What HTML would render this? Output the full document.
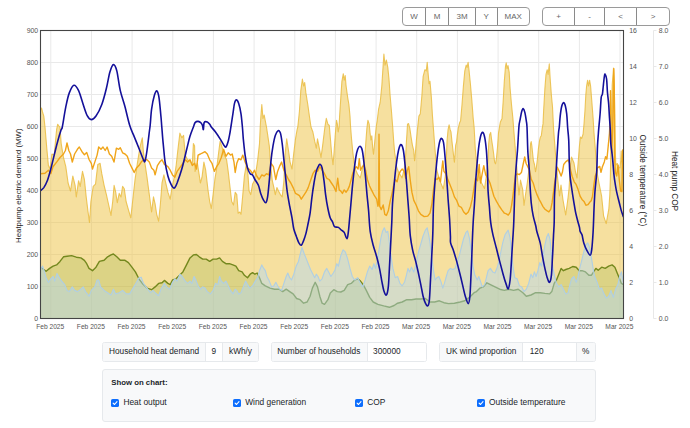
<!DOCTYPE html>
<html><head><meta charset="utf-8"><title>Heat pump demand</title>
<style>
html,body{margin:0;padding:0;background:#fff;}
body{width:690px;height:428px;position:relative;overflow:hidden;font-family:"Liberation Sans",sans-serif;color:#212529;}
.chart{position:absolute;left:0;top:0;}
.bg{position:absolute;top:6.7px;height:17.6px;border:1px solid #9a9a9a;border-radius:4px;display:flex;box-sizing:content-box;background:#fff;}
.bg div{height:17.6px;line-height:18.2px;text-align:center;font-size:8px;color:#666;border-left:1px solid #8a8a8a;box-sizing:border-box;}
.bg div:first-child{border-left:none;}
.ig{position:absolute;top:342px;height:17.6px;display:flex;font-size:8.28px;line-height:18.8px;border:1px solid #e6e9ec;border-radius:2.5px;overflow:hidden;background:#fff;}
.ig .l{background:#f8f9fa;padding:0 0 0 6.6px;white-space:nowrap;}
.ig .i{background:#fff;border-left:1px solid #e6e9ec;white-space:nowrap;}
.ig .u{background:#f8f9fa;border-left:1px solid #e6e9ec;white-space:nowrap;text-align:center;}
.panel{position:absolute;left:102px;top:369px;width:491.5px;height:50.5px;background:#f8f9fa;border:1px solid #e6e9ec;border-radius:3px;}
.panel .h{position:absolute;left:8.2px;top:8px;font-size:7.8px;font-weight:bold;line-height:10px;white-space:nowrap;}
.cbx{position:absolute;top:27.4px;font-size:8.4px;line-height:10px;white-space:nowrap;}
.cbx .cb{position:absolute;left:0;top:1.2px;}
.cbx span{position:absolute;left:12.2px;top:0;}
</style></head><body>
<svg class="chart" width="690" height="340" viewBox="0 0 690 340"><rect x="40.5" y="30.5" width="583.0" height="288.0" fill="#fff"/><path d="M50.8,30.5 V318.5 M91.5,30.5 V318.5 M132.1,30.5 V318.5 M172.8,30.5 V318.5 M213.4,30.5 V318.5 M254.1,30.5 V318.5 M294.8,30.5 V318.5 M335.4,30.5 V318.5 M376.1,30.5 V318.5 M416.7,30.5 V318.5 M457.4,30.5 V318.5 M498.1,30.5 V318.5 M538.7,30.5 V318.5 M579.4,30.5 V318.5 M620.0,30.5 V318.5 M40.5,286.5 H623.5 M40.5,254.5 H623.5 M40.5,222.5 H623.5 M40.5,190.5 H623.5 M40.5,158.5 H623.5 M40.5,126.5 H623.5 M40.5,94.5 H623.5 M40.5,62.5 H623.5" stroke="#e9e9e9" stroke-width="1" fill="none"/><g clip-path="url(#cp)"><defs><clipPath id="cp"><rect x="40.5" y="30.5" width="583.0" height="288.0"/></clipPath></defs><path d="M40.5,110.0 L41.5,108.0 L42.5,112.0 L43.8,116.1 L45.0,127.0 L46.8,148.2 L48.4,165.6 L50.0,169.0 L51.9,154.0 L54.2,155.0 L56.6,129.6 L57.7,124.2 L59.0,126.0 L60.0,127.3 L61.2,143.6 L63.5,157.5 L65.8,166.7 L68.1,183.0 L70.5,191.0 L72.8,176.0 L75.1,185.3 L76.3,196.9 L78.6,180.7 L80.2,186.4 L82.5,171.4 L84.4,179.5 L86.2,196.9 L87.9,210.8 L89.5,222.4 L90.9,201.5 L93.2,186.4 L95.5,184.1 L97.8,164.4 L100.1,163.3 L101.8,173.7 L104.1,185.3 L106.4,194.6 L108.7,205.0 L111.0,215.4 L112.7,201.5 L114.1,185.3 L115.7,192.2 L117.3,202.7 L119.2,193.4 L121.0,196.9 L122.6,186.4 L124.3,188.8 L126.1,201.5 L128.4,209.6 L130.8,217.8 L132.6,201.5 L134.9,180.7 L137.2,164.4 L140.0,147.0 L142.3,137.8 L143.5,152.8 L145.1,164.4 L147.0,177.2 L149.3,194.6 L151.6,212.0 L153.5,196.9 L155.1,203.8 L156.7,214.3 L158.6,221.2 L160.4,203.8 L162.0,183.0 L163.9,174.9 L165.5,181.8 L167.9,192.2 L170.2,199.2 L172.0,187.6 L174.3,177.2 L176.0,166.7 L177.8,150.5 L179.9,133.1 L181.8,137.8 L183.6,135.4 L185.2,155.1 L187.6,159.8 L190.0,161.0 L192.3,164.4 L193.4,143.6 L194.6,145.9 L195.1,171.4 L197.4,163.3 L199.2,174.9 L200.4,183.0 L202.0,177.2 L203.9,162.1 L205.7,170.2 L208.0,190.0 L209.7,201.5 L211.3,208.5 L213.1,194.6 L215.0,178.3 L216.6,169.0 L218.9,150.5 L220.1,141.2 L222.0,147.0 L224.3,155.1 L226.6,159.8 L228.2,171.4 L229.8,185.3 L231.7,201.5 L233.5,205.0 L235.2,192.2 L236.8,194.6 L238.2,213.1 L239.8,212.0 L241.0,214.3 L242.8,194.6 L244.4,176.0 L246.1,165.6 L247.9,173.7 L249.1,191.1 L250.7,194.6 L252.6,184.1 L254.4,180.7 L256.0,171.4 L257.7,159.8 L259.5,143.6 L260.2,127.0 L260.9,116.1 L261.8,104.5 L263.0,118.4 L264.2,115.0 L265.3,120.8 L266.5,127.0 L267.6,134.3 L269.3,145.9 L270.7,165.6 L272.3,180.7 L273.9,187.6 L275.3,194.6 L276.9,187.6 L278.5,191.1 L280.4,194.6 L282.2,196.9 L283.9,180.7 L285.0,155.1 L286.7,138.9 L288.5,150.5 L290.1,162.1 L292.0,169.0 L293.8,152.8 L295.5,138.9 L297.1,129.6 L297.8,127.0 L299.4,111.5 L300.8,90.6 L302.4,79.0 L303.6,86.0 L304.7,82.5 L305.9,92.9 L307.8,104.5 L309.4,116.1 L311.0,127.0 L312.9,132.0 L314.7,141.2 L316.3,148.2 L317.5,138.9 L319.3,148.2 L321.0,157.5 L322.6,145.9 L324.0,134.3 L324.9,127.0 L326.3,118.4 L327.9,124.2 L329.3,125.5 L330.4,138.5 L331.7,154.2 L333.0,164.7 L333.9,154.2 L335.2,135.9 L336.5,120.2 L337.4,124.2 L338.2,132.0 L339.1,126.8 L339.6,116.1 L340.8,97.6 L341.9,81.3 L343.3,73.7 L344.2,80.2 L345.2,75.5 L346.1,86.0 L347.7,97.6 L348.9,104.5 L350.0,116.1 L350.5,125.5 L351.5,138.5 L352.9,152.9 L354.2,163.4 L355.7,170.1 L357.5,174.0 L360.3,178.0 L362.9,166.2 L364.2,162.2 L365.0,154.2 L365.9,141.2 L366.9,128.1 L367.9,120.2 L369.2,124.2 L370.1,133.3 L370.9,139.9 L371.8,135.9 L372.7,147.7 L373.5,154.2 L374.4,145.1 L375.4,134.6 L376.4,125.5 L377.2,120.8 L378.6,109.2 L380.2,102.2 L381.8,86.0 L383.0,67.4 L383.9,54.0 L385.0,65.1 L386.4,60.0 L387.8,67.4 L389.0,79.0 L390.1,95.2 L391.3,109.2 L392.3,122.0 L392.8,128.1 L393.7,141.2 L394.7,152.9 L395.8,159.5 L396.7,167.3 L398.5,172.0 L402.1,177.9 L404.8,166.2 L405.8,153.1 L406.5,140.0 L406.9,134.6 L407.5,124.2 L408.5,123.5 L409.8,128.1 L411.1,137.2 L412.4,145.1 L413.7,150.3 L414.6,160.8 L415.4,152.9 L416.3,141.2 L417.6,128.1 L418.9,116.1 L420.3,113.8 L421.9,95.2 L423.1,76.7 L424.9,69.7 L426.3,70.9 L427.2,62.3 L428.2,74.4 L429.1,83.7 L430.0,81.3 L431.4,97.6 L432.4,115.0 L433.4,128.1 L434.4,141.2 L435.3,152.9 L436.3,164.7 L437.0,171.0 L440.0,181.0 L443.3,189.0 L445.3,176.0 L446.1,165.0 L446.5,154.2 L447.0,141.2 L448.1,129.4 L449.1,124.8 L450.1,129.4 L451.0,132.0 L451.8,139.9 L452.7,147.7 L453.6,155.6 L454.4,162.1 L455.0,154.2 L455.7,145.1 L456.6,141.8 L457.2,135.9 L458.3,128.1 L459.6,122.8 L460.6,120.8 L462.0,104.5 L463.4,86.0 L464.8,70.9 L466.2,65.1 L467.1,67.4 L468.1,62.3 L469.0,69.7 L470.4,83.7 L471.8,99.9 L473.2,118.4 L474.1,127.0 L474.6,136.0 L475.3,149.0 L476.2,158.2 L477.5,171.0 L480.0,180.0 L484.5,188.5 L486.5,175.0 L487.5,165.0 L488.0,159.2 L488.7,143.5 L489.7,134.4 L490.7,132.4 L491.6,139.6 L492.6,146.2 L493.7,154.0 L494.6,161.9 L495.5,163.8 L496.5,157.9 L497.6,146.2 L498.5,133.1 L499.8,125.2 L500.4,121.9 L502.0,118.4 L503.1,102.2 L504.3,81.3 L505.5,66.3 L506.2,62.8 L507.1,68.6 L508.0,65.6 L509.2,72.1 L510.1,88.3 L511.5,104.5 L512.9,118.4 L513.8,130.5 L514.9,143.5 L515.9,156.6 L516.8,167.1 L517.5,178.0 L519.0,194.9 L520.5,180.0 L522.7,189.6 L524.0,205.3 L525.3,196.0 L527.3,183.0 L528.6,172.0 L529.5,165.8 L530.0,152.7 L530.6,143.5 L531.2,141.6 L531.9,146.2 L532.7,154.0 L533.4,160.6 L534.5,164.5 L535.5,171.7 L536.4,167.1 L537.4,159.2 L538.4,148.8 L539.5,140.9 L540.4,137.0 L541.3,135.7 L542.1,129.2 L543.0,123.9 L543.7,109.2 L544.9,88.3 L546.0,74.4 L547.2,69.7 L548.1,74.4 L549.3,63.9 L550.2,79.0 L551.4,95.2 L552.5,106.8 L553.5,127.8 L554.4,139.6 L555.4,152.7 L556.5,164.5 L557.4,176.0 L559.5,196.0 L561.0,185.0 L563.0,200.0 L565.7,215.0 L568.0,198.0 L569.0,189.0 L570.5,165.0 L571.5,157.0 L574.0,163.0 L575.5,172.0 L577.0,178.0 L578.4,159.2 L579.4,146.2 L580.4,137.0 L581.7,138.3 L583.1,134.0 L584.0,124.0 L585.0,110.0 L585.8,95.0 L586.6,86.0 L587.6,80.2 L588.5,86.0 L589.6,80.2 L590.6,86.0 L591.7,99.9 L593.1,118.0 L594.0,133.0 L595.1,146.2 L596.1,159.2 L596.7,167.1 L597.5,175.0 L599.0,183.0 L601.6,196.0 L603.6,215.8 L606.2,223.6 L608.8,209.2 L609.8,195.0 L610.3,180.0 L610.8,150.0 L611.3,120.0 L612.2,85.0 L613.5,68.0 L614.3,85.0 L614.9,120.0 L615.3,150.0 L615.8,165.0 L617.3,163.5 L618.6,167.0 L620.0,168.0 L620.8,160.0 L621.2,151.0 L621.6,160.0 L622.5,165.0 L623.5,158.0 L623.5,318.5 L40.5,318.5 Z" fill="#edc240" fill-opacity="0.5"/><path d="M40.5,110.0 L41.5,108.0 L42.5,112.0 L43.8,116.1 L45.0,127.0 L46.8,148.2 L48.4,165.6 L50.0,169.0 L51.9,154.0 L54.2,155.0 L56.6,129.6 L57.7,124.2 L59.0,126.0 L60.0,127.3 L61.2,143.6 L63.5,157.5 L65.8,166.7 L68.1,183.0 L70.5,191.0 L72.8,176.0 L75.1,185.3 L76.3,196.9 L78.6,180.7 L80.2,186.4 L82.5,171.4 L84.4,179.5 L86.2,196.9 L87.9,210.8 L89.5,222.4 L90.9,201.5 L93.2,186.4 L95.5,184.1 L97.8,164.4 L100.1,163.3 L101.8,173.7 L104.1,185.3 L106.4,194.6 L108.7,205.0 L111.0,215.4 L112.7,201.5 L114.1,185.3 L115.7,192.2 L117.3,202.7 L119.2,193.4 L121.0,196.9 L122.6,186.4 L124.3,188.8 L126.1,201.5 L128.4,209.6 L130.8,217.8 L132.6,201.5 L134.9,180.7 L137.2,164.4 L140.0,147.0 L142.3,137.8 L143.5,152.8 L145.1,164.4 L147.0,177.2 L149.3,194.6 L151.6,212.0 L153.5,196.9 L155.1,203.8 L156.7,214.3 L158.6,221.2 L160.4,203.8 L162.0,183.0 L163.9,174.9 L165.5,181.8 L167.9,192.2 L170.2,199.2 L172.0,187.6 L174.3,177.2 L176.0,166.7 L177.8,150.5 L179.9,133.1 L181.8,137.8 L183.6,135.4 L185.2,155.1 L187.6,159.8 L190.0,161.0 L192.3,164.4 L193.4,143.6 L194.6,145.9 L195.1,171.4 L197.4,163.3 L199.2,174.9 L200.4,183.0 L202.0,177.2 L203.9,162.1 L205.7,170.2 L208.0,190.0 L209.7,201.5 L211.3,208.5 L213.1,194.6 L215.0,178.3 L216.6,169.0 L218.9,150.5 L220.1,141.2 L222.0,147.0 L224.3,155.1 L226.6,159.8 L228.2,171.4 L229.8,185.3 L231.7,201.5 L233.5,205.0 L235.2,192.2 L236.8,194.6 L238.2,213.1 L239.8,212.0 L241.0,214.3 L242.8,194.6 L244.4,176.0 L246.1,165.6 L247.9,173.7 L249.1,191.1 L250.7,194.6 L252.6,184.1 L254.4,180.7 L256.0,171.4 L257.7,159.8 L259.5,143.6 L260.2,127.0 L260.9,116.1 L261.8,104.5 L263.0,118.4 L264.2,115.0 L265.3,120.8 L266.5,127.0 L267.6,134.3 L269.3,145.9 L270.7,165.6 L272.3,180.7 L273.9,187.6 L275.3,194.6 L276.9,187.6 L278.5,191.1 L280.4,194.6 L282.2,196.9 L283.9,180.7 L285.0,155.1 L286.7,138.9 L288.5,150.5 L290.1,162.1 L292.0,169.0 L293.8,152.8 L295.5,138.9 L297.1,129.6 L297.8,127.0 L299.4,111.5 L300.8,90.6 L302.4,79.0 L303.6,86.0 L304.7,82.5 L305.9,92.9 L307.8,104.5 L309.4,116.1 L311.0,127.0 L312.9,132.0 L314.7,141.2 L316.3,148.2 L317.5,138.9 L319.3,148.2 L321.0,157.5 L322.6,145.9 L324.0,134.3 L324.9,127.0 L326.3,118.4 L327.9,124.2 L329.3,125.5 L330.4,138.5 L331.7,154.2 L333.0,164.7 L333.9,154.2 L335.2,135.9 L336.5,120.2 L337.4,124.2 L338.2,132.0 L339.1,126.8 L339.6,116.1 L340.8,97.6 L341.9,81.3 L343.3,73.7 L344.2,80.2 L345.2,75.5 L346.1,86.0 L347.7,97.6 L348.9,104.5 L350.0,116.1 L350.5,125.5 L351.5,138.5 L352.9,152.9 L354.2,163.4 L355.7,170.1 L357.5,174.0 L360.3,178.0 L362.9,166.2 L364.2,162.2 L365.0,154.2 L365.9,141.2 L366.9,128.1 L367.9,120.2 L369.2,124.2 L370.1,133.3 L370.9,139.9 L371.8,135.9 L372.7,147.7 L373.5,154.2 L374.4,145.1 L375.4,134.6 L376.4,125.5 L377.2,120.8 L378.6,109.2 L380.2,102.2 L381.8,86.0 L383.0,67.4 L383.9,54.0 L385.0,65.1 L386.4,60.0 L387.8,67.4 L389.0,79.0 L390.1,95.2 L391.3,109.2 L392.3,122.0 L392.8,128.1 L393.7,141.2 L394.7,152.9 L395.8,159.5 L396.7,167.3 L398.5,172.0 L402.1,177.9 L404.8,166.2 L405.8,153.1 L406.5,140.0 L406.9,134.6 L407.5,124.2 L408.5,123.5 L409.8,128.1 L411.1,137.2 L412.4,145.1 L413.7,150.3 L414.6,160.8 L415.4,152.9 L416.3,141.2 L417.6,128.1 L418.9,116.1 L420.3,113.8 L421.9,95.2 L423.1,76.7 L424.9,69.7 L426.3,70.9 L427.2,62.3 L428.2,74.4 L429.1,83.7 L430.0,81.3 L431.4,97.6 L432.4,115.0 L433.4,128.1 L434.4,141.2 L435.3,152.9 L436.3,164.7 L437.0,171.0 L440.0,181.0 L443.3,189.0 L445.3,176.0 L446.1,165.0 L446.5,154.2 L447.0,141.2 L448.1,129.4 L449.1,124.8 L450.1,129.4 L451.0,132.0 L451.8,139.9 L452.7,147.7 L453.6,155.6 L454.4,162.1 L455.0,154.2 L455.7,145.1 L456.6,141.8 L457.2,135.9 L458.3,128.1 L459.6,122.8 L460.6,120.8 L462.0,104.5 L463.4,86.0 L464.8,70.9 L466.2,65.1 L467.1,67.4 L468.1,62.3 L469.0,69.7 L470.4,83.7 L471.8,99.9 L473.2,118.4 L474.1,127.0 L474.6,136.0 L475.3,149.0 L476.2,158.2 L477.5,171.0 L480.0,180.0 L484.5,188.5 L486.5,175.0 L487.5,165.0 L488.0,159.2 L488.7,143.5 L489.7,134.4 L490.7,132.4 L491.6,139.6 L492.6,146.2 L493.7,154.0 L494.6,161.9 L495.5,163.8 L496.5,157.9 L497.6,146.2 L498.5,133.1 L499.8,125.2 L500.4,121.9 L502.0,118.4 L503.1,102.2 L504.3,81.3 L505.5,66.3 L506.2,62.8 L507.1,68.6 L508.0,65.6 L509.2,72.1 L510.1,88.3 L511.5,104.5 L512.9,118.4 L513.8,130.5 L514.9,143.5 L515.9,156.6 L516.8,167.1 L517.5,178.0 L519.0,194.9 L520.5,180.0 L522.7,189.6 L524.0,205.3 L525.3,196.0 L527.3,183.0 L528.6,172.0 L529.5,165.8 L530.0,152.7 L530.6,143.5 L531.2,141.6 L531.9,146.2 L532.7,154.0 L533.4,160.6 L534.5,164.5 L535.5,171.7 L536.4,167.1 L537.4,159.2 L538.4,148.8 L539.5,140.9 L540.4,137.0 L541.3,135.7 L542.1,129.2 L543.0,123.9 L543.7,109.2 L544.9,88.3 L546.0,74.4 L547.2,69.7 L548.1,74.4 L549.3,63.9 L550.2,79.0 L551.4,95.2 L552.5,106.8 L553.5,127.8 L554.4,139.6 L555.4,152.7 L556.5,164.5 L557.4,176.0 L559.5,196.0 L561.0,185.0 L563.0,200.0 L565.7,215.0 L568.0,198.0 L569.0,189.0 L570.5,165.0 L571.5,157.0 L574.0,163.0 L575.5,172.0 L577.0,178.0 L578.4,159.2 L579.4,146.2 L580.4,137.0 L581.7,138.3 L583.1,134.0 L584.0,124.0 L585.0,110.0 L585.8,95.0 L586.6,86.0 L587.6,80.2 L588.5,86.0 L589.6,80.2 L590.6,86.0 L591.7,99.9 L593.1,118.0 L594.0,133.0 L595.1,146.2 L596.1,159.2 L596.7,167.1 L597.5,175.0 L599.0,183.0 L601.6,196.0 L603.6,215.8 L606.2,223.6 L608.8,209.2 L609.8,195.0 L610.3,180.0 L610.8,150.0 L611.3,120.0 L612.2,85.0 L613.5,68.0 L614.3,85.0 L614.9,120.0 L615.3,150.0 L615.8,165.0 L617.3,163.5 L618.6,167.0 L620.0,168.0 L620.8,160.0 L621.2,151.0 L621.6,160.0 L622.5,165.0 L623.5,158.0" fill="none" stroke="#e8b93a" stroke-opacity="0.8" stroke-width="1.1" stroke-linejoin="round"/><path d="M40.5,267.2 L43.8,269.5 L46.1,271.2 L49.6,268.4 L53.1,266.1 L56.6,264.9 L60.0,261.4 L63.5,256.8 L67.0,256.3 L71.6,255.6 L76.3,257.2 L80.9,257.9 L84.4,260.3 L86.7,263.7 L89.0,268.4 L92.5,270.7 L96.0,267.2 L99.4,261.4 L104.1,260.3 L107.6,256.8 L111.0,254.9 L113.4,254.0 L116.8,256.8 L120.3,260.3 L125.0,260.3 L128.4,262.6 L131.9,267.2 L135.4,271.9 L138.9,278.8 L142.3,283.4 L147.0,288.1 L151.6,289.7 L155.1,286.9 L158.6,283.4 L162.0,282.8 L164.4,280.4 L167.9,283.4 L170.2,284.6 L172.5,280.0 L176.0,278.8 L179.5,275.3 L182.9,271.9 L186.5,264.9 L190.0,257.9 L193.4,254.9 L196.4,254.5 L199.2,256.8 L202.7,259.1 L206.2,259.1 L209.7,261.4 L213.1,259.1 L216.6,259.1 L219.6,257.9 L222.4,261.4 L225.9,263.7 L229.4,263.7 L232.9,264.9 L235.9,266.1 L238.7,270.7 L242.1,271.9 L244.4,275.3 L247.5,277.7 L250.2,274.2 L252.6,272.6 L254.9,274.2 L257.2,273.0 L259.5,277.7 L261.8,283.4 L265.3,285.8 L270.0,288.1 L274.6,289.2 L279.2,289.2 L282.7,291.6 L286.2,289.2 L289.7,291.6 L293.1,293.9 L296.6,298.5 L300.1,299.7 L303.6,303.2 L307.1,302.0 L310.1,296.2 L312.4,288.1 L315.2,282.3 L317.5,286.9 L319.8,296.2 L322.1,303.2 L324.5,304.3 L327.9,299.7 L330.3,293.0 L333.8,289.7 L337.3,291.6 L340.8,292.0 L344.2,290.4 L347.7,284.6 L351.2,283.4 L354.7,280.0 L357.7,278.8 L360.5,281.1 L363.2,284.6 L366.3,290.4 L369.7,297.4 L373.2,302.0 L377.9,304.3 L383.7,305.9 L389.4,307.3 L394.1,305.5 L397.6,303.2 L402.2,302.0 L406.8,299.7 L411.5,299.7 L416.1,299.0 L420.8,299.0 L425.4,298.5 L430.0,302.0 L434.7,302.0 L439.3,300.8 L443.9,302.7 L448.6,303.6 L454.4,303.2 L460.2,302.0 L464.8,300.8 L469.4,297.4 L474.1,292.7 L476.5,291.6 L480.0,288.1 L483.4,286.9 L486.9,282.8 L490.4,284.6 L495.0,286.9 L499.7,289.2 L504.3,290.4 L508.9,289.2 L513.6,290.4 L518.2,289.2 L522.9,292.7 L526.3,296.2 L531.0,295.0 L535.6,292.7 L540.2,292.7 L544.9,293.4 L549.5,293.9 L551.8,291.6 L554.2,283.4 L556.5,280.0 L558.8,274.2 L561.1,268.4 L563.4,270.7 L565.8,269.5 L569.2,268.4 L572.7,266.5 L576.2,267.2 L579.2,270.7 L582.0,270.7 L585.5,271.9 L588.9,275.3 L591.3,275.3 L593.6,271.9 L595.9,268.4 L598.2,270.2 L601.7,267.2 L605.2,268.4 L608.7,266.1 L612.1,264.9 L614.9,267.2 L617.2,273.0 L619.6,278.8 L621.4,283.4 L623.5,284.6 L623.5,318.5 L40.5,318.5 Z" fill="#7aa020" fill-opacity="0.2"/><path d="M40.5,267.2 L43.8,269.5 L46.1,271.2 L49.6,268.4 L53.1,266.1 L56.6,264.9 L60.0,261.4 L63.5,256.8 L67.0,256.3 L71.6,255.6 L76.3,257.2 L80.9,257.9 L84.4,260.3 L86.7,263.7 L89.0,268.4 L92.5,270.7 L96.0,267.2 L99.4,261.4 L104.1,260.3 L107.6,256.8 L111.0,254.9 L113.4,254.0 L116.8,256.8 L120.3,260.3 L125.0,260.3 L128.4,262.6 L131.9,267.2 L135.4,271.9 L138.9,278.8 L142.3,283.4 L147.0,288.1 L151.6,289.7 L155.1,286.9 L158.6,283.4 L162.0,282.8 L164.4,280.4 L167.9,283.4 L170.2,284.6 L172.5,280.0 L176.0,278.8 L179.5,275.3 L182.9,271.9 L186.5,264.9 L190.0,257.9 L193.4,254.9 L196.4,254.5 L199.2,256.8 L202.7,259.1 L206.2,259.1 L209.7,261.4 L213.1,259.1 L216.6,259.1 L219.6,257.9 L222.4,261.4 L225.9,263.7 L229.4,263.7 L232.9,264.9 L235.9,266.1 L238.7,270.7 L242.1,271.9 L244.4,275.3 L247.5,277.7 L250.2,274.2 L252.6,272.6 L254.9,274.2 L257.2,273.0 L259.5,277.7 L261.8,283.4 L265.3,285.8 L270.0,288.1 L274.6,289.2 L279.2,289.2 L282.7,291.6 L286.2,289.2 L289.7,291.6 L293.1,293.9 L296.6,298.5 L300.1,299.7 L303.6,303.2 L307.1,302.0 L310.1,296.2 L312.4,288.1 L315.2,282.3 L317.5,286.9 L319.8,296.2 L322.1,303.2 L324.5,304.3 L327.9,299.7 L330.3,293.0 L333.8,289.7 L337.3,291.6 L340.8,292.0 L344.2,290.4 L347.7,284.6 L351.2,283.4 L354.7,280.0 L357.7,278.8 L360.5,281.1 L363.2,284.6 L366.3,290.4 L369.7,297.4 L373.2,302.0 L377.9,304.3 L383.7,305.9 L389.4,307.3 L394.1,305.5 L397.6,303.2 L402.2,302.0 L406.8,299.7 L411.5,299.7 L416.1,299.0 L420.8,299.0 L425.4,298.5 L430.0,302.0 L434.7,302.0 L439.3,300.8 L443.9,302.7 L448.6,303.6 L454.4,303.2 L460.2,302.0 L464.8,300.8 L469.4,297.4 L474.1,292.7 L476.5,291.6 L480.0,288.1 L483.4,286.9 L486.9,282.8 L490.4,284.6 L495.0,286.9 L499.7,289.2 L504.3,290.4 L508.9,289.2 L513.6,290.4 L518.2,289.2 L522.9,292.7 L526.3,296.2 L531.0,295.0 L535.6,292.7 L540.2,292.7 L544.9,293.4 L549.5,293.9 L551.8,291.6 L554.2,283.4 L556.5,280.0 L558.8,274.2 L561.1,268.4 L563.4,270.7 L565.8,269.5 L569.2,268.4 L572.7,266.5 L576.2,267.2 L579.2,270.7 L582.0,270.7 L585.5,271.9 L588.9,275.3 L591.3,275.3 L593.6,271.9 L595.9,268.4 L598.2,270.2 L601.7,267.2 L605.2,268.4 L608.7,266.1 L612.1,264.9 L614.9,267.2 L617.2,273.0 L619.6,278.8 L621.4,283.4 L623.5,284.6" fill="none" stroke="#74881e" stroke-width="1.4" stroke-linejoin="round"/><path d="M40.5,269.5 L42.6,266.1 L44.5,271.9 L46.1,277.7 L48.4,282.3 L50.8,278.8 L53.1,276.5 L54.7,281.1 L57.0,273.5 L59.3,277.7 L61.7,281.1 L64.7,284.6 L67.0,290.4 L69.3,291.6 L72.3,286.9 L74.6,290.4 L77.4,291.6 L80.9,289.2 L83.2,286.9 L85.5,291.6 L89.0,296.2 L91.3,290.4 L94.8,286.9 L97.1,280.0 L98.7,280.0 L100.6,286.9 L104.1,290.4 L107.6,292.7 L111.0,295.0 L113.4,289.2 L115.7,293.9 L119.2,292.7 L122.6,290.4 L126.1,293.9 L129.6,293.9 L133.1,288.1 L136.5,282.3 L138.9,277.7 L141.2,277.2 L143.5,283.4 L147.0,288.1 L150.5,292.7 L152.8,290.4 L155.1,292.7 L158.6,295.7 L160.9,289.2 L164.4,283.4 L166.7,286.9 L169.7,289.2 L172.0,283.4 L174.8,278.8 L177.1,281.1 L179.9,274.2 L182.2,276.5 L185.3,281.1 L187.6,283.4 L190.0,281.1 L191.8,283.4 L194.1,276.5 L195.8,280.0 L198.1,285.8 L200.4,289.2 L202.7,286.9 L205.0,288.1 L207.3,291.6 L210.4,293.9 L213.1,290.4 L215.5,283.4 L217.8,284.6 L219.6,276.5 L221.3,281.1 L223.6,283.4 L225.9,281.1 L228.2,285.8 L230.5,290.4 L232.9,293.9 L235.2,289.2 L236.8,290.4 L238.7,293.9 L241.0,292.7 L243.3,286.9 L245.6,281.1 L247.5,284.6 L249.8,288.1 L252.6,285.8 L255.3,281.1 L257.7,277.7 L259.5,270.7 L261.8,264.9 L263.7,268.4 L265.3,270.7 L266.9,276.5 L269.3,281.1 L271.6,286.9 L273.9,285.8 L275.8,282.3 L277.6,285.8 L279.9,289.2 L281.6,290.4 L283.9,283.4 L286.2,276.5 L287.8,273.0 L289.7,277.7 L291.5,280.0 L293.8,274.2 L296.2,266.1 L298.5,261.4 L300.1,254.5 L302.0,247.5 L304.0,253.3 L305.9,257.9 L308.2,263.7 L310.5,269.5 L312.9,274.2 L314.7,277.7 L316.3,274.2 L318.0,276.5 L319.8,281.1 L322.1,278.8 L324.5,271.9 L326.8,268.4 L328.6,271.9 L330.9,276.5 L333.3,273.0 L335.0,270.0 L336.8,263.7 L338.4,266.1 L340.8,255.6 L343.1,249.8 L345.4,252.1 L347.7,259.1 L350.0,268.4 L352.3,276.5 L354.7,280.0 L357.7,277.7 L360.5,283.4 L362.8,286.9 L365.1,280.0 L367.4,271.9 L369.7,266.1 L372.1,269.5 L373.9,263.7 L375.5,268.4 L377.2,261.4 L379.0,249.8 L380.9,238.2 L382.5,231.3 L384.3,227.8 L386.0,232.4 L387.8,231.3 L389.4,242.9 L391.1,256.8 L392.9,268.4 L395.2,277.7 L397.6,276.5 L399.9,283.4 L402.2,285.8 L404.5,282.3 L406.4,275.3 L408.0,268.4 L409.6,271.9 L411.5,267.2 L413.8,271.9 L416.1,263.7 L418.4,252.1 L420.8,244.0 L423.1,235.9 L425.4,230.1 L427.2,227.8 L428.9,235.9 L430.0,242.9 L431.9,259.1 L433.5,270.7 L435.1,280.0 L437.0,277.7 L438.8,276.5 L441.2,282.3 L442.8,288.1 L444.4,283.4 L446.3,276.5 L448.1,270.7 L450.4,268.4 L452.8,269.5 L455.1,268.4 L456.9,262.6 L459.0,256.8 L461.3,247.5 L463.7,238.2 L466.0,232.4 L467.6,230.8 L469.4,238.2 L471.3,252.1 L472.9,266.1 L474.9,275.3 L477.2,280.0 L478.8,276.5 L480.4,281.1 L482.3,286.9 L484.6,284.6 L486.4,277.7 L488.1,270.7 L490.4,268.4 L492.7,271.9 L495.0,273.0 L497.3,267.2 L499.0,261.4 L500.8,252.1 L502.7,242.9 L505.0,234.8 L506.6,232.4 L508.2,230.1 L510.1,238.2 L511.5,252.1 L512.9,266.1 L514.7,277.7 L517.1,278.8 L519.4,285.8 L521.7,286.9 L524.0,291.6 L526.3,289.2 L528.7,283.4 L531.0,274.2 L532.8,277.7 L534.4,271.9 L536.1,276.5 L537.9,270.7 L539.8,262.6 L541.4,266.1 L543.0,256.8 L544.9,245.2 L546.7,237.1 L548.4,233.6 L550.0,239.4 L551.4,254.5 L553.0,268.4 L554.6,276.5 L556.5,283.4 L558.8,286.9 L561.1,284.6 L563.4,289.2 L565.8,293.9 L568.1,292.7 L569.9,284.6 L571.6,278.8 L573.9,276.5 L576.2,282.3 L577.8,277.7 L579.7,268.4 L581.5,261.4 L583.4,253.3 L585.5,245.2 L587.8,242.9 L589.6,247.5 L591.3,256.8 L593.1,268.4 L594.7,276.5 L597.1,282.3 L599.4,289.2 L601.7,288.1 L604.0,293.9 L606.3,298.1 L608.7,296.2 L611.0,290.4 L613.3,297.4 L615.6,289.2 L617.9,284.6 L619.6,276.5 L621.4,271.9 L623.5,283.4 L623.5,318.5 L40.5,318.5 Z" fill="#afd8f8" fill-opacity="0.45"/><path d="M40.5,269.5 L42.6,266.1 L44.5,271.9 L46.1,277.7 L48.4,282.3 L50.8,278.8 L53.1,276.5 L54.7,281.1 L57.0,273.5 L59.3,277.7 L61.7,281.1 L64.7,284.6 L67.0,290.4 L69.3,291.6 L72.3,286.9 L74.6,290.4 L77.4,291.6 L80.9,289.2 L83.2,286.9 L85.5,291.6 L89.0,296.2 L91.3,290.4 L94.8,286.9 L97.1,280.0 L98.7,280.0 L100.6,286.9 L104.1,290.4 L107.6,292.7 L111.0,295.0 L113.4,289.2 L115.7,293.9 L119.2,292.7 L122.6,290.4 L126.1,293.9 L129.6,293.9 L133.1,288.1 L136.5,282.3 L138.9,277.7 L141.2,277.2 L143.5,283.4 L147.0,288.1 L150.5,292.7 L152.8,290.4 L155.1,292.7 L158.6,295.7 L160.9,289.2 L164.4,283.4 L166.7,286.9 L169.7,289.2 L172.0,283.4 L174.8,278.8 L177.1,281.1 L179.9,274.2 L182.2,276.5 L185.3,281.1 L187.6,283.4 L190.0,281.1 L191.8,283.4 L194.1,276.5 L195.8,280.0 L198.1,285.8 L200.4,289.2 L202.7,286.9 L205.0,288.1 L207.3,291.6 L210.4,293.9 L213.1,290.4 L215.5,283.4 L217.8,284.6 L219.6,276.5 L221.3,281.1 L223.6,283.4 L225.9,281.1 L228.2,285.8 L230.5,290.4 L232.9,293.9 L235.2,289.2 L236.8,290.4 L238.7,293.9 L241.0,292.7 L243.3,286.9 L245.6,281.1 L247.5,284.6 L249.8,288.1 L252.6,285.8 L255.3,281.1 L257.7,277.7 L259.5,270.7 L261.8,264.9 L263.7,268.4 L265.3,270.7 L266.9,276.5 L269.3,281.1 L271.6,286.9 L273.9,285.8 L275.8,282.3 L277.6,285.8 L279.9,289.2 L281.6,290.4 L283.9,283.4 L286.2,276.5 L287.8,273.0 L289.7,277.7 L291.5,280.0 L293.8,274.2 L296.2,266.1 L298.5,261.4 L300.1,254.5 L302.0,247.5 L304.0,253.3 L305.9,257.9 L308.2,263.7 L310.5,269.5 L312.9,274.2 L314.7,277.7 L316.3,274.2 L318.0,276.5 L319.8,281.1 L322.1,278.8 L324.5,271.9 L326.8,268.4 L328.6,271.9 L330.9,276.5 L333.3,273.0 L335.0,270.0 L336.8,263.7 L338.4,266.1 L340.8,255.6 L343.1,249.8 L345.4,252.1 L347.7,259.1 L350.0,268.4 L352.3,276.5 L354.7,280.0 L357.7,277.7 L360.5,283.4 L362.8,286.9 L365.1,280.0 L367.4,271.9 L369.7,266.1 L372.1,269.5 L373.9,263.7 L375.5,268.4 L377.2,261.4 L379.0,249.8 L380.9,238.2 L382.5,231.3 L384.3,227.8 L386.0,232.4 L387.8,231.3 L389.4,242.9 L391.1,256.8 L392.9,268.4 L395.2,277.7 L397.6,276.5 L399.9,283.4 L402.2,285.8 L404.5,282.3 L406.4,275.3 L408.0,268.4 L409.6,271.9 L411.5,267.2 L413.8,271.9 L416.1,263.7 L418.4,252.1 L420.8,244.0 L423.1,235.9 L425.4,230.1 L427.2,227.8 L428.9,235.9 L430.0,242.9 L431.9,259.1 L433.5,270.7 L435.1,280.0 L437.0,277.7 L438.8,276.5 L441.2,282.3 L442.8,288.1 L444.4,283.4 L446.3,276.5 L448.1,270.7 L450.4,268.4 L452.8,269.5 L455.1,268.4 L456.9,262.6 L459.0,256.8 L461.3,247.5 L463.7,238.2 L466.0,232.4 L467.6,230.8 L469.4,238.2 L471.3,252.1 L472.9,266.1 L474.9,275.3 L477.2,280.0 L478.8,276.5 L480.4,281.1 L482.3,286.9 L484.6,284.6 L486.4,277.7 L488.1,270.7 L490.4,268.4 L492.7,271.9 L495.0,273.0 L497.3,267.2 L499.0,261.4 L500.8,252.1 L502.7,242.9 L505.0,234.8 L506.6,232.4 L508.2,230.1 L510.1,238.2 L511.5,252.1 L512.9,266.1 L514.7,277.7 L517.1,278.8 L519.4,285.8 L521.7,286.9 L524.0,291.6 L526.3,289.2 L528.7,283.4 L531.0,274.2 L532.8,277.7 L534.4,271.9 L536.1,276.5 L537.9,270.7 L539.8,262.6 L541.4,266.1 L543.0,256.8 L544.9,245.2 L546.7,237.1 L548.4,233.6 L550.0,239.4 L551.4,254.5 L553.0,268.4 L554.6,276.5 L556.5,283.4 L558.8,286.9 L561.1,284.6 L563.4,289.2 L565.8,293.9 L568.1,292.7 L569.9,284.6 L571.6,278.8 L573.9,276.5 L576.2,282.3 L577.8,277.7 L579.7,268.4 L581.5,261.4 L583.4,253.3 L585.5,245.2 L587.8,242.9 L589.6,247.5 L591.3,256.8 L593.1,268.4 L594.7,276.5 L597.1,282.3 L599.4,289.2 L601.7,288.1 L604.0,293.9 L606.3,298.1 L608.7,296.2 L611.0,290.4 L613.3,297.4 L615.6,289.2 L617.9,284.6 L619.6,276.5 L621.4,271.9 L623.5,283.4" fill="none" stroke="#b0cfe3" stroke-width="1.15" stroke-linejoin="round"/><path d="M40.5,173.7 L45.0,173.2 L48.4,170.2 L50.8,173.7 L53.0,166.7 L56.6,162.1 L60.0,157.5 L63.5,154.0 L65.4,150.5 L67.0,143.0 L68.8,150.5 L70.5,154.0 L72.3,162.0 L74.6,154.0 L77.4,149.3 L79.3,147.0 L82.0,151.7 L84.4,154.7 L86.7,152.4 L89.0,159.3 L91.3,163.3 L92.5,169.0 L94.8,162.1 L97.1,155.1 L98.7,147.0 L101.0,149.3 L103.0,147.0 L105.2,150.5 L107.1,147.0 L109.4,154.0 L111.7,156.3 L114.0,162.1 L116.4,148.2 L118.7,149.3 L120.3,147.7 L122.6,152.8 L125.0,154.0 L127.3,156.3 L129.6,163.3 L131.9,167.9 L134.2,172.5 L136.5,167.9 L138.9,165.6 L141.2,162.1 L143.5,159.8 L147.0,159.8 L149.3,162.1 L151.6,167.9 L153.9,170.2 L155.1,174.9 L157.4,165.6 L159.7,162.1 L162.0,159.8 L164.4,164.4 L167.9,166.7 L170.2,170.2 L172.5,174.9 L174.8,177.2 L177.1,171.4 L180.6,166.7 L182.9,163.3 L185.3,159.8 L187.6,162.1 L190.0,159.8 L192.3,165.6 L194.6,163.3 L196.4,169.0 L198.1,155.1 L200.4,154.0 L202.7,152.8 L205.0,151.7 L207.3,154.0 L209.7,159.8 L212.0,163.3 L214.3,171.4 L216.6,166.7 L218.9,163.3 L221.3,157.5 L223.6,149.3 L225.9,156.3 L228.2,152.8 L230.5,155.1 L232.2,154.0 L234.0,162.1 L235.2,172.5 L236.8,163.3 L238.7,158.6 L241.0,159.8 L242.8,155.1 L245.1,162.1 L247.5,167.9 L250.2,170.2 L252.6,173.7 L254.4,170.2 L256.7,176.0 L259.1,179.5 L261.8,174.9 L264.2,176.0 L266.5,173.7 L268.8,174.9 L271.1,163.3 L273.4,166.7 L275.8,179.5 L277.6,171.4 L279.9,165.6 L281.6,162.1 L283.9,170.2 L286.2,174.9 L288.5,179.5 L290.8,183.0 L293.1,187.6 L295.5,193.4 L297.8,194.6 L299.4,195.7 L301.3,199.2 L303.6,195.7 L305.9,192.2 L308.2,187.6 L310.5,180.7 L312.9,173.7 L315.2,170.2 L317.5,171.4 L319.8,166.7 L322.1,170.2 L324.5,173.7 L326.8,178.3 L329.1,179.5 L331.4,183.0 L333.7,186.4 L336.0,191.5 L337.7,178.3 L339.2,189.9 L340.8,191.1 L342.4,193.4 L344.2,189.9 L346.1,192.2 L347.7,189.9 L349.3,186.4 L351.2,179.5 L353.0,172.5 L354.7,169.0 L356.3,166.7 L358.1,169.0 L359.3,158.6 L360.5,170.2 L362.3,166.7 L363.9,165.6 L365.6,170.2 L367.4,179.5 L369.7,186.4 L372.1,191.1 L374.4,195.7 L376.7,199.2 L377.9,206.2 L378.6,203.8 L379.0,134.3 L379.7,206.2 L381.3,209.6 L383.2,205.0 L384.8,214.3 L386.4,215.4 L388.3,210.8 L390.1,201.5 L391.8,194.6 L393.4,186.4 L395.2,179.5 L397.1,181.8 L398.7,174.9 L400.3,171.4 L402.2,169.0 L404.1,171.4 L405.7,178.3 L407.3,170.2 L408.7,166.7 L410.3,180.7 L411.9,192.2 L413.8,200.4 L416.1,205.0 L418.4,210.8 L420.8,214.3 L424.2,216.6 L427.7,216.1 L430.0,213.1 L431.9,203.8 L433.5,189.9 L435.1,178.3 L437.0,179.5 L438.8,177.2 L440.5,181.8 L441.6,171.4 L442.8,160.9 L443.9,171.4 L445.8,173.7 L447.4,178.3 L449.7,184.1 L452.1,189.9 L454.4,196.9 L456.7,200.4 L459.0,206.2 L461.3,207.3 L463.7,212.0 L466.0,214.3 L468.3,212.0 L470.6,206.2 L472.2,199.2 L474.1,187.6 L475.5,178.3 L477.6,180.7 L479.2,164.4 L480.6,183.0 L482.2,173.7 L483.8,165.6 L485.7,174.9 L487.5,177.5 L490.0,183.0 L492.0,189.6 L493.9,196.2 L496.5,201.4 L499.2,206.0 L501.8,209.9 L504.4,213.2 L506.4,213.8 L508.3,215.1 L510.3,211.9 L511.6,205.3 L512.9,196.2 L514.2,185.7 L515.5,175.2 L517.5,173.9 L519.4,174.6 L521.4,172.6 L523.0,165.0 L524.7,157.0 L526.0,163.2 L527.3,165.8 L529.3,170.0 L531.2,179.2 L533.2,183.0 L535.1,189.6 L537.1,194.9 L539.1,199.4 L541.0,202.7 L543.0,206.6 L545.0,209.2 L546.9,210.6 L548.9,211.9 L550.8,209.2 L552.1,202.7 L553.5,192.2 L554.8,181.8 L555.8,176.0 L557.2,167.1 L559.1,171.0 L561.1,176.0 L562.4,172.3 L563.7,164.5 L565.7,161.9 L568.3,159.9 L569.6,163.2 L570.5,170.0 L572.2,176.5 L574.2,181.8 L576.1,184.4 L578.1,189.6 L580.1,196.2 L582.0,199.4 L584.0,201.4 L585.9,205.3 L587.9,204.7 L589.9,202.1 L591.2,200.7 L592.5,196.2 L593.8,185.7 L595.1,176.5 L596.4,173.0 L597.5,167.8 L599.7,166.4 L601.0,172.3 L602.3,167.1 L604.3,161.9 L605.6,156.6 L606.9,159.2 L608.2,146.2 L609.5,133.0 L610.1,120.0 L610.5,90.6 L610.9,133.0 L611.8,152.7 L612.6,130.0 L613.3,90.0 L613.8,68.6 L614.3,90.0 L614.7,159.2 L615.4,172.3 L616.7,176.0 L618.0,165.1 L619.3,180.0 L620.6,191.0 L621.9,191.6 L622.6,150.0 L623.5,156.0" fill="none" stroke="#f0a51a" stroke-width="1.4" stroke-linejoin="round"/><path d="M40.5,190.6 C41.0,190.1 42.7,189.2 43.8,187.6 C44.9,185.9 46.1,183.8 47.3,180.7 C48.5,177.6 49.6,173.3 50.8,169.0 C51.9,164.7 53.1,159.7 54.2,155.1 C55.4,150.5 56.5,145.4 57.7,141.2 C58.9,136.9 60.4,132.0 61.2,129.6 C62.0,127.2 61.5,130.8 62.3,127.0 C63.1,123.2 64.6,112.5 65.8,106.8 C67.0,101.1 67.9,96.5 69.3,92.9 C70.7,89.3 72.4,85.7 73.9,85.3 C75.5,84.9 77.0,87.4 78.6,90.6 C80.1,93.8 81.8,100.3 83.2,104.5 C84.6,108.7 85.9,113.2 87.2,115.7 C88.5,118.2 89.8,119.5 91.3,119.6 C92.8,119.6 94.2,118.5 96.0,116.0 C97.8,113.5 100.1,109.1 101.8,104.5 C103.5,99.9 105.1,93.7 106.4,88.3 C107.8,82.9 108.7,76.0 109.9,72.0 C111.1,68.0 112.2,64.8 113.4,64.6 C114.6,64.4 115.7,66.6 116.8,70.9 C117.9,75.2 118.9,84.6 120.3,90.6 C121.7,96.6 123.5,101.1 125.0,106.8 C126.5,112.5 128.1,120.0 129.6,125.0 C131.1,130.0 132.6,132.7 134.2,136.6 C135.8,140.5 137.3,144.3 138.9,148.2 C140.5,152.1 142.5,157.7 143.5,159.8 C144.5,161.9 144.5,162.6 145.1,161.0 C145.7,159.4 146.3,155.3 147.0,150.5 C147.7,145.7 148.8,136.2 149.3,132.0 C149.8,127.8 149.8,128.8 150.2,125.0 C150.6,121.2 150.9,114.2 151.6,109.2 C152.3,104.2 153.5,98.2 154.4,95.2 C155.3,92.2 156.2,90.6 157.0,91.0 C157.8,91.4 158.3,93.4 159.0,97.6 C159.7,101.8 160.4,111.1 160.9,116.0 C161.4,120.9 161.4,122.4 161.8,127.0 C162.2,131.6 162.6,137.8 163.2,143.6 C163.8,149.4 164.3,156.7 165.1,162.1 C165.9,167.5 166.9,172.2 167.9,176.0 C168.9,179.8 170.2,182.8 171.3,184.8 C172.4,186.8 173.3,188.4 174.3,188.1 C175.3,187.8 175.8,186.2 177.1,183.0 C178.3,179.8 180.2,174.4 181.8,169.0 C183.4,163.6 185.1,155.9 186.4,150.5 C187.8,145.1 188.7,140.5 189.9,136.6 C191.1,132.7 192.5,129.3 193.4,127.0 C194.3,124.7 194.3,123.5 195.1,122.6 C195.9,121.7 197.1,121.3 198.1,121.4 C199.1,121.5 200.4,122.3 201.1,123.0 C201.8,123.7 202.1,124.3 202.5,125.4 C202.9,126.5 203.1,130.1 203.4,129.6 C203.7,129.1 203.5,123.8 204.2,122.5 C204.8,121.2 206.4,121.6 207.3,121.9 C208.2,122.2 209.0,123.4 209.7,124.2 C210.4,125.0 210.3,125.7 211.3,127.0 C212.3,128.3 214.0,130.0 215.5,132.0 C217.0,134.0 218.8,136.8 220.1,138.9 C221.4,141.0 222.6,143.3 223.6,144.7 C224.6,146.0 225.1,147.6 225.9,147.0 C226.7,146.4 227.5,143.7 228.2,141.2 C228.9,138.7 229.6,134.7 230.1,132.0 C230.6,129.3 230.7,128.0 231.2,125.0 C231.7,122.0 232.3,117.4 232.9,113.8 C233.5,110.2 233.9,105.7 234.5,103.4 C235.1,101.1 235.6,99.9 236.3,99.9 C237.0,99.9 237.9,101.1 238.7,103.4 C239.5,105.7 240.4,109.9 241.0,113.8 C241.6,117.7 242.0,122.8 242.4,127.0 C242.8,131.2 242.9,134.2 243.3,138.9 C243.8,143.6 244.4,150.3 245.1,155.1 C245.8,159.9 246.7,164.8 247.5,167.9 C248.3,171.0 249.3,172.5 250.2,173.7 C251.0,174.9 251.8,173.9 252.6,174.9 C253.4,175.9 253.9,177.8 254.9,179.5 C255.9,181.2 257.4,183.0 258.4,185.3 C259.4,187.6 259.9,191.1 260.7,193.4 C261.5,195.7 262.1,197.6 263.0,199.2 C263.9,200.8 265.0,203.1 265.8,202.7 C266.6,202.3 267.0,200.6 267.6,196.9 C268.2,193.2 268.7,186.9 269.3,180.7 C269.9,174.5 270.5,165.6 271.1,159.8 C271.7,154.0 272.3,150.0 273.0,145.9 C273.7,141.8 274.4,137.9 275.3,135.4 C276.2,132.9 277.2,131.2 278.1,130.8 C279.0,130.4 279.7,131.0 280.4,133.1 C281.1,135.2 281.6,139.1 282.2,143.6 C282.8,148.1 283.3,154.4 283.9,159.8 C284.4,165.2 284.9,170.6 285.5,176.0 C286.1,181.4 286.6,187.2 287.3,192.2 C288.0,197.2 288.9,201.9 289.7,206.2 C290.5,210.5 291.3,214.0 292.0,217.8 C292.7,221.6 293.0,225.8 293.8,229.0 C294.6,232.2 295.8,234.8 296.6,237.1 C297.5,239.4 298.1,241.6 298.9,242.9 C299.7,244.2 300.5,245.6 301.3,245.2 C302.1,244.8 302.8,242.5 303.6,240.6 C304.4,238.7 305.1,236.5 305.9,233.6 C306.7,230.7 307.5,226.4 308.2,223.0 C308.9,219.6 309.5,217.1 310.1,213.1 C310.7,209.1 311.1,204.2 311.7,199.2 C312.3,194.2 313.2,187.6 314.0,183.0 C314.8,178.4 315.5,174.3 316.3,171.4 C317.1,168.5 318.0,166.8 318.7,165.6 C319.4,164.4 319.7,164.0 320.3,164.4 C320.9,164.8 321.5,165.2 322.1,167.9 C322.7,170.6 323.4,176.2 324.0,180.7 C324.6,185.1 325.0,190.0 325.6,194.6 C326.2,199.2 327.1,204.6 327.9,208.5 C328.7,212.4 329.4,215.6 330.2,217.8 C331.0,220.1 331.9,220.5 332.6,222.0 C333.3,223.5 333.5,225.7 334.5,226.6 C335.5,227.5 337.2,226.8 338.4,227.4 C339.5,228.0 340.4,229.3 341.4,230.1 C342.4,230.9 343.3,231.0 344.2,232.4 C345.1,233.8 346.3,238.9 347.0,238.7 C347.7,238.5 348.0,234.1 348.4,231.3 C348.8,228.5 348.9,226.2 349.3,222.0 C349.7,217.8 350.2,211.9 350.7,206.2 C351.2,200.5 351.8,193.4 352.3,187.6 C352.9,181.8 353.4,176.4 354.0,171.4 C354.6,166.4 355.2,161.2 355.8,157.5 C356.4,153.8 357.0,151.2 357.7,149.3 C358.4,147.4 359.2,146.1 360.0,146.3 C360.8,146.5 361.7,147.9 362.3,150.5 C362.9,153.1 363.3,157.5 363.9,162.1 C364.4,166.7 365.1,172.9 365.6,178.3 C366.1,183.7 366.5,189.2 367.0,194.6 C367.5,200.0 368.1,204.7 368.6,210.8 C369.1,216.9 369.4,225.6 370.2,231.3 C371.0,237.0 372.1,240.9 373.2,245.2 C374.3,249.4 375.6,252.9 376.7,256.8 C377.8,260.7 378.6,264.3 379.5,268.4 C380.4,272.4 381.0,277.2 381.8,281.1 C382.6,285.0 383.3,289.3 384.1,291.6 C384.9,293.9 385.7,295.8 386.4,295.0 C387.1,294.2 387.8,291.3 388.3,286.9 C388.8,282.5 389.0,275.3 389.4,268.4 C389.8,261.4 390.2,252.9 390.6,245.2 C391.0,237.5 391.5,228.9 391.8,222.0 C392.1,215.1 392.1,209.9 392.5,203.8 C392.9,197.7 393.6,191.1 394.1,185.3 C394.6,179.5 395.1,174.0 395.7,169.0 C396.3,164.0 397.0,158.8 397.6,155.1 C398.2,151.4 398.8,148.7 399.4,147.0 C400.0,145.3 400.6,144.1 401.3,144.7 C402.0,145.3 402.8,147.2 403.4,150.5 C404.0,153.8 404.5,159.4 405.0,164.4 C405.5,169.4 405.9,174.9 406.4,180.7 C406.9,186.5 407.3,193.0 407.8,199.2 C408.3,205.4 408.8,211.7 409.2,217.8 C409.6,223.9 409.7,230.6 410.3,235.9 C410.9,241.2 411.7,245.6 412.6,249.8 C413.5,254.1 414.7,257.5 415.7,261.4 C416.7,265.3 417.5,269.1 418.4,273.0 C419.2,276.9 420.0,280.7 420.8,284.6 C421.6,288.5 422.3,293.1 423.1,296.2 C423.9,299.3 424.6,301.6 425.4,303.2 C426.2,304.8 427.0,306.3 427.7,305.9 C428.4,305.5 428.8,305.1 429.3,300.8 C429.8,296.5 430.1,287.3 430.5,280.0 C430.9,272.7 431.3,264.5 431.7,256.8 C432.1,249.1 432.5,242.2 432.8,233.6 C433.1,225.0 433.1,213.8 433.5,205.0 C433.9,196.2 434.6,187.5 435.1,180.7 C435.6,173.9 436.0,169.4 436.5,164.4 C437.0,159.4 437.6,154.4 438.1,150.5 C438.7,146.6 439.2,143.2 439.8,141.2 C440.4,139.2 441.0,138.2 441.6,138.4 C442.2,138.6 442.9,139.2 443.5,142.4 C444.1,145.6 444.6,151.5 445.1,157.5 C445.6,163.5 446.2,171.4 446.7,178.3 C447.2,185.2 447.6,192.6 448.1,199.2 C448.6,205.8 449.1,211.7 449.5,217.8 C449.9,223.9 450.2,231.7 450.4,235.9 C450.6,240.1 450.1,240.6 450.6,242.9 C451.1,245.2 452.2,246.7 453.2,249.8 C454.2,252.9 455.6,257.5 456.7,261.4 C457.8,265.3 458.7,269.1 459.7,273.0 C460.7,276.9 461.6,280.7 462.5,284.6 C463.4,288.5 464.3,293.0 465.3,296.2 C466.3,299.4 467.5,303.6 468.3,303.6 C469.1,303.6 469.4,301.3 469.9,296.2 C470.4,291.1 470.7,281.5 471.1,273.0 C471.5,264.5 471.9,253.7 472.2,245.2 C472.5,236.7 472.8,229.3 473.2,222.0 C473.6,214.7 474.2,208.8 474.6,201.5 C475.1,194.2 475.4,185.6 475.9,178.3 C476.4,171.0 477.1,163.3 477.6,157.5 C478.2,151.7 478.6,147.4 479.2,143.6 C479.8,139.8 480.4,136.6 481.0,134.7 C481.6,132.8 482.3,131.9 482.9,132.4 C483.5,132.9 484.2,134.8 484.8,137.8 C485.4,140.8 485.9,145.1 486.4,150.5 C486.8,155.9 487.2,163.5 487.5,170.0 C487.8,176.5 487.7,183.5 488.0,189.6 C488.3,195.7 488.9,201.1 489.4,206.6 C489.8,212.1 490.1,217.8 490.7,222.3 C491.2,226.8 491.8,229.4 492.7,233.6 C493.6,237.8 495.0,242.9 496.2,247.5 C497.4,252.1 498.5,256.9 499.7,261.4 C500.9,265.8 502.1,270.5 503.1,274.2 C504.1,277.9 505.0,281.0 505.9,283.4 C506.8,285.8 507.5,289.4 508.2,288.8 C508.9,288.2 509.6,284.2 510.1,280.0 C510.6,275.8 510.9,269.5 511.3,263.7 C511.7,257.9 512.0,251.5 512.4,245.2 C512.8,238.9 513.3,232.0 513.6,226.0 C513.9,220.0 514.0,215.3 514.2,209.2 C514.4,203.1 514.6,196.1 514.9,189.6 C515.2,183.1 515.5,176.6 515.9,170.0 C516.3,163.4 517.0,157.2 517.5,150.0 C518.0,142.8 518.5,132.1 518.9,127.0 C519.3,121.9 519.6,122.2 520.1,119.6 C520.6,117.0 521.2,113.3 521.7,111.5 C522.2,109.7 522.8,108.5 523.3,108.7 C523.8,108.9 524.4,110.6 524.9,112.6 C525.4,114.6 525.9,118.4 526.3,120.8 C526.6,123.2 526.7,121.7 527.0,127.0 C527.3,132.3 527.5,145.5 527.9,152.7 C528.3,159.9 529.0,164.9 529.3,170.0 C529.6,175.1 529.6,177.6 529.9,183.0 C530.2,188.4 530.7,197.2 531.2,202.7 C531.8,208.2 532.4,211.9 533.2,215.8 C534.0,219.7 535.2,223.4 535.8,226.0 C536.4,228.6 536.1,228.5 536.8,231.3 C537.5,234.1 539.2,238.7 540.2,242.9 C541.2,247.2 541.8,252.6 542.6,256.8 C543.4,261.1 544.1,264.9 544.9,268.4 C545.7,271.9 546.4,275.4 547.2,277.7 C548.0,280.0 548.8,282.7 549.5,282.3 C550.2,281.9 550.9,279.6 551.4,275.3 C551.9,271.1 552.1,263.4 552.5,256.8 C552.9,250.2 553.2,241.7 553.5,235.9 C553.8,230.1 554.0,228.6 554.2,222.0 C554.4,215.4 554.2,203.8 554.5,196.2 C554.8,188.6 555.3,183.8 555.8,176.5 C556.2,169.2 556.8,159.9 557.2,152.7 C557.7,145.4 558.1,137.3 558.5,133.0 C558.9,128.7 559.0,129.8 559.3,127.0 C559.6,124.2 559.8,119.5 560.2,116.1 C560.6,112.7 561.1,109.0 561.6,106.8 C562.1,104.6 562.8,102.9 563.4,102.7 C564.0,102.5 564.8,103.9 565.3,105.7 C565.8,107.5 566.3,110.2 566.7,113.8 C567.1,117.3 567.3,122.7 567.6,127.0 C567.9,131.3 568.4,134.2 568.7,139.6 C569.0,145.0 569.0,153.3 569.2,159.2 C569.4,165.1 569.6,170.6 570.0,175.2 C570.4,179.8 570.9,182.8 571.5,187.0 C572.1,191.2 572.8,195.9 573.5,200.1 C574.2,204.2 574.9,208.6 575.5,211.9 C576.1,215.2 576.8,217.2 577.4,219.7 C578.0,222.2 578.9,225.1 579.4,227.0 C579.9,228.9 579.7,230.0 580.1,231.3 C580.5,232.6 581.4,232.9 582.0,234.8 C582.6,236.7 583.0,240.4 583.8,242.9 C584.6,245.4 585.5,247.8 586.6,249.8 C587.7,251.9 589.2,255.2 590.1,255.2 C591.0,255.2 591.2,253.7 591.7,249.8 C592.2,245.9 592.7,238.8 593.1,232.0 C593.5,225.2 593.7,216.3 594.0,209.2 C594.3,202.1 594.6,195.8 595.1,189.6 C595.6,183.4 596.3,179.5 596.7,172.3 C597.1,165.1 597.2,152.8 597.5,146.2 C597.8,139.6 598.2,136.2 598.4,133.0 C598.6,129.8 598.6,130.2 598.9,127.0 C599.2,123.8 599.7,118.7 600.1,113.8 C600.5,108.9 600.8,100.9 601.2,97.6 C601.6,94.3 602.0,96.0 602.4,94.1 C602.8,92.2 602.9,89.1 603.3,86.0 C603.6,82.9 604.2,77.4 604.5,75.5 C604.8,73.6 604.9,73.8 605.2,74.4 C605.6,75.0 606.2,75.9 606.6,79.0 C607.0,82.1 607.1,88.7 607.5,92.9 C607.9,97.2 608.4,100.3 608.7,104.5 C609.0,108.7 609.2,113.8 609.5,118.0 C609.8,122.2 610.1,125.8 610.3,130.0 C610.5,134.2 610.5,139.5 610.8,143.5 C611.1,147.5 611.7,150.5 612.1,154.0 C612.5,157.5 612.8,160.8 613.1,164.5 C613.4,168.2 613.8,173.3 614.1,176.0 C614.4,178.7 614.3,177.8 614.7,180.5 C615.1,183.2 615.9,188.5 616.7,192.2 C617.5,195.9 618.5,199.6 619.3,202.7 C620.1,205.8 620.6,208.2 621.3,210.6 C622.0,213.0 623.1,216.0 623.5,217.1" fill="none" stroke="#14109a" stroke-width="1.6" stroke-linejoin="round"/></g><rect x="40.5" y="30.5" width="583.0" height="288.0" fill="none" stroke="#444" stroke-width="1.1"/><path d="M653.5,30.5 V318.5 M653.5,318.5 h3 M653.5,282.5 h3 M653.5,246.5 h3 M653.5,210.5 h3 M653.5,174.5 h3 M653.5,138.5 h3 M653.5,102.5 h3 M653.5,66.5 h3 M653.5,30.5 h3" stroke="#e8e8e8" stroke-width="1" fill="none"/><g font-family="Liberation Sans, sans-serif" font-size="6.9" fill="#545454"><text x="38.2" y="321.4" text-anchor="end">0</text><text x="38.2" y="289.4" text-anchor="end">100</text><text x="38.2" y="257.4" text-anchor="end">200</text><text x="38.2" y="225.4" text-anchor="end">300</text><text x="38.2" y="193.4" text-anchor="end">400</text><text x="38.2" y="161.4" text-anchor="end">500</text><text x="38.2" y="129.4" text-anchor="end">600</text><text x="38.2" y="97.4" text-anchor="end">700</text><text x="38.2" y="65.4" text-anchor="end">800</text><text x="38.2" y="33.4" text-anchor="end">900</text><text x="629.2" y="321.4">0</text><text x="658.8" y="321.4">0.0</text><text x="629.2" y="285.4">2</text><text x="658.8" y="285.4">1.0</text><text x="629.2" y="249.4">4</text><text x="658.8" y="249.4">2.0</text><text x="629.2" y="213.4">6</text><text x="658.8" y="213.4">3.0</text><text x="629.2" y="177.4">8</text><text x="658.8" y="177.4">4.0</text><text x="629.2" y="141.4">10</text><text x="658.8" y="141.4">5.0</text><text x="629.2" y="105.4">12</text><text x="658.8" y="105.4">6.0</text><text x="629.2" y="69.4">14</text><text x="658.8" y="69.4">7.0</text><text x="629.2" y="33.4">16</text><text x="658.8" y="33.4">8.0</text><text x="50.2" y="329.0" font-size="6.65" text-anchor="middle">Feb 2025</text><text x="90.9" y="329.0" font-size="6.65" text-anchor="middle">Feb 2025</text><text x="131.5" y="329.0" font-size="6.65" text-anchor="middle">Feb 2025</text><text x="172.2" y="329.0" font-size="6.65" text-anchor="middle">Feb 2025</text><text x="212.8" y="329.0" font-size="6.65" text-anchor="middle">Feb 2025</text><text x="253.5" y="329.0" font-size="6.65" text-anchor="middle">Feb 2025</text><text x="294.2" y="329.0" font-size="6.65" text-anchor="middle">Feb 2025</text><text x="334.8" y="329.0" font-size="6.65" text-anchor="middle">Feb 2025</text><text x="375.5" y="329.0" font-size="6.65" text-anchor="middle">Feb 2025</text><text x="416.1" y="329.0" font-size="6.65" text-anchor="middle">Mar 2025</text><text x="456.8" y="329.0" font-size="6.65" text-anchor="middle">Mar 2025</text><text x="497.5" y="329.0" font-size="6.65" text-anchor="middle">Mar 2025</text><text x="538.1" y="329.0" font-size="6.65" text-anchor="middle">Mar 2025</text><text x="578.8" y="329.0" font-size="6.65" text-anchor="middle">Mar 2025</text><text x="619.4" y="329.0" font-size="6.65" text-anchor="middle">Mar 2025</text></g><g font-family="Liberation Sans, sans-serif" fill="#222"><text font-size="7.8" transform="translate(21.3,185.7) rotate(-90)" text-anchor="middle">Heatpump electric demand (MW)</text><text font-size="8.2" transform="translate(640,180.4) rotate(90)" text-anchor="middle">Outside temperature (°C)</text><text font-size="8.2" transform="translate(671.5,181) rotate(90)" text-anchor="middle">Heat pump COP</text></g></svg>
<div class="bg" style="left:402px;width:126px;">
<div style="width:22px">W</div><div style="width:23px">M</div><div style="width:27px">3M</div><div style="width:21.5px">Y</div><div style="width:32.5px">MAX</div>
</div>
<div class="bg" style="left:542px;width:126px;">
<div style="width:31px">+</div><div style="width:30px">-</div><div style="width:32px">&lt;</div><div style="width:33px">&gt;</div>
</div>
<div class="ig" style="left:102px;width:154.7px;"><div class="l" style="width:95.5px;padding-left:6px">Household heat demand</div><div class="i" style="width:16.8px;padding-left:0;text-align:center">9</div><div class="u" style="flex:1">kWh/y</div></div>
<div class="ig" style="left:271px;width:154.4px;"><div class="l" style="width:89.5px;padding-left:5.2px">Number of households</div><div class="i" style="flex:1;padding-left:5.4px">300000</div></div>
<div class="ig" style="left:439px;width:154.6px;"><div class="l" style="width:76px;padding-left:6.1px">UK wind proportion</div><div class="i" style="width:45.9px;padding-left:6.6px">120</div><div class="u" style="flex:1">%</div></div>
<div class="panel">
<div class="h">Show on chart:</div>
<div class="cbx" style="left:8.2px"><svg class="cb" width="8" height="8" viewBox="0 0 8 8"><rect width="8" height="8" rx="1.6" fill="#0d6efd"/><path d="M2.1,4.1 L3.5,5.5 L6,2.7" stroke="#fff" stroke-width="1.1" fill="none" stroke-linecap="round" stroke-linejoin="round"/></svg><span>Heat output</span></div>
<div class="cbx" style="left:130px"><svg class="cb" width="8" height="8" viewBox="0 0 8 8"><rect width="8" height="8" rx="1.6" fill="#0d6efd"/><path d="M2.1,4.1 L3.5,5.5 L6,2.7" stroke="#fff" stroke-width="1.1" fill="none" stroke-linecap="round" stroke-linejoin="round"/></svg><span>Wind generation</span></div>
<div class="cbx" style="left:252px"><svg class="cb" width="8" height="8" viewBox="0 0 8 8"><rect width="8" height="8" rx="1.6" fill="#0d6efd"/><path d="M2.1,4.1 L3.5,5.5 L6,2.7" stroke="#fff" stroke-width="1.1" fill="none" stroke-linecap="round" stroke-linejoin="round"/></svg><span>COP</span></div>
<div class="cbx" style="left:373.8px"><svg class="cb" width="8" height="8" viewBox="0 0 8 8"><rect width="8" height="8" rx="1.6" fill="#0d6efd"/><path d="M2.1,4.1 L3.5,5.5 L6,2.7" stroke="#fff" stroke-width="1.1" fill="none" stroke-linecap="round" stroke-linejoin="round"/></svg><span>Outside temperature</span></div>
</div>
</body></html>
